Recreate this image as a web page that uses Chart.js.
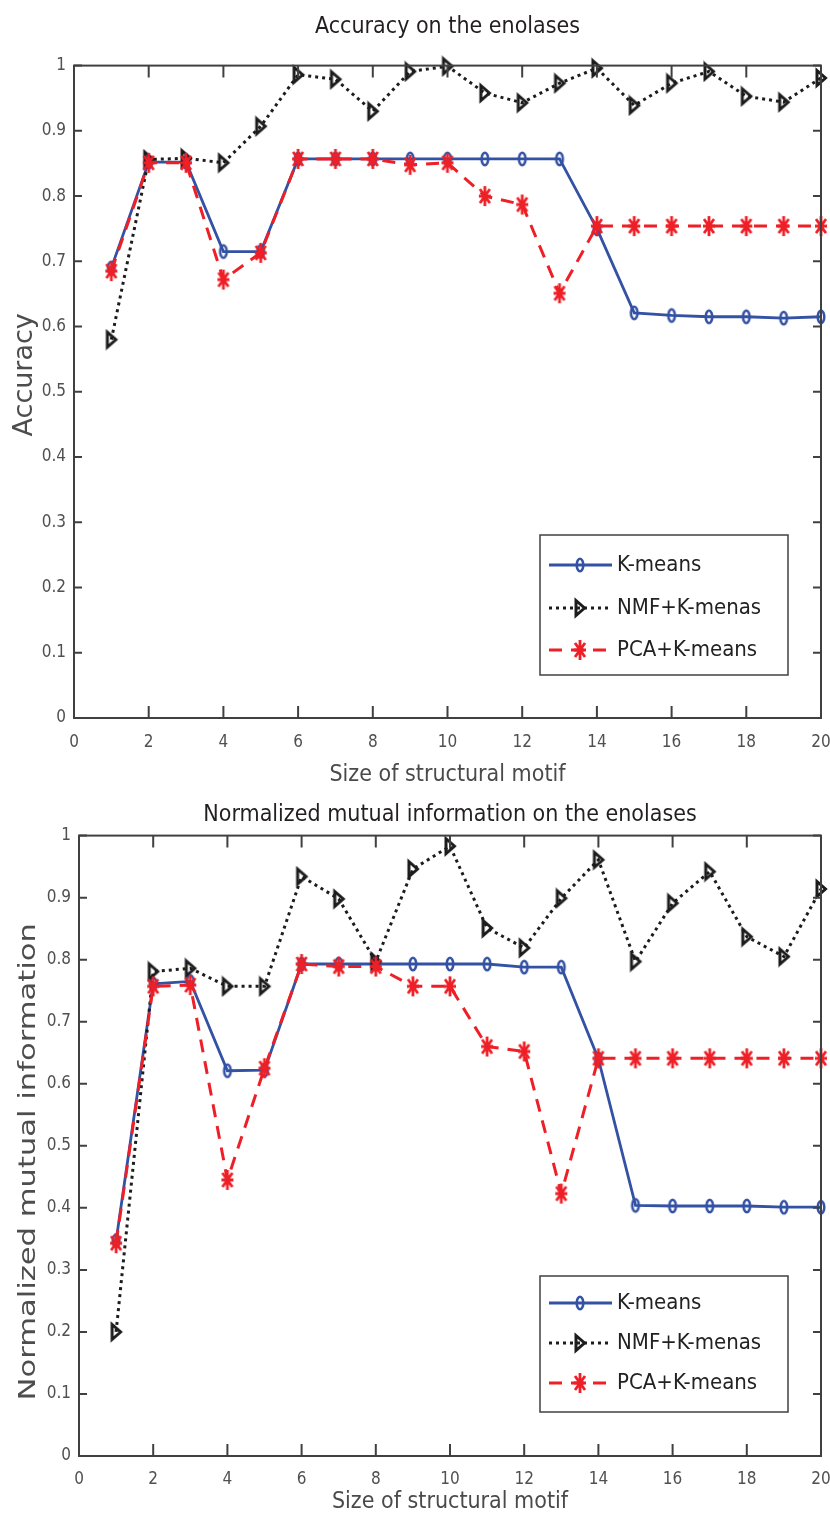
<!DOCTYPE html>
<html lang="en">
<head>
<meta charset="UTF-8">
<title>Clustering on the enolases</title>
<script src="https://cdn.jsdelivr.net/npm/chart.js"></script>
<style>
    html, body { margin: 0; padding: 0; background: #fff; }
    .wrap { position: relative; width: 830px; }
    #accWrap { height: 795px; }
    #nmiWrap { height: 723px; }
</style>
</head>
<body>
<div class="wrap" id="accWrap"><canvas id="accChart"></canvas></div>
<div class="wrap" id="nmiWrap"><canvas id="nmiChart"></canvas></div>

<script>
// Data
const motifSizes = [1, 2, 3, 4, 5, 6, 7, 8, 9, 10, 11, 12, 13, 14, 15, 16, 17, 18, 19, 20];
const xTicks = [0, 2, 4, 6, 8, 10, 12, 14, 16, 18, 20];
const yTicks = [0, 0.1, 0.2, 0.3, 0.4, 0.5, 0.6, 0.7, 0.8, 0.9, 1];
const seriesNames = ['K-means', 'NMF+K-menas', 'PCA+K-means'];

const accKmeans = [0.69, 0.852, 0.852, 0.715, 0.715, 0.857, 0.857, 0.857, 0.857, 0.857,
                   0.857, 0.857, 0.857, 0.750, 0.621, 0.617, 0.615, 0.615, 0.613, 0.615];
const accNmf    = [0.58, 0.856, 0.858, 0.851, 0.907, 0.986, 0.979, 0.930, 0.991, 0.999,
                   0.958, 0.943, 0.973, 0.996, 0.939, 0.973, 0.991, 0.953, 0.944, 0.981];
const accPca    = [0.685, 0.851, 0.851, 0.672, 0.713, 0.857, 0.857, 0.857, 0.848, 0.851,
                   0.800, 0.787, 0.651, 0.754, 0.754, 0.754, 0.754, 0.754, 0.754, 0.754];

const nmiKmeans = [0.347, 0.761, 0.765, 0.621, 0.622, 0.793, 0.793, 0.793, 0.793, 0.793,
                   0.793, 0.788, 0.788, 0.640, 0.404, 0.403, 0.403, 0.403, 0.401, 0.401];
const nmiNmf    = [0.200, 0.781, 0.786, 0.757, 0.757, 0.934, 0.898, 0.797, 0.946, 0.983,
                   0.851, 0.819, 0.899, 0.961, 0.797, 0.891, 0.942, 0.837, 0.805, 0.914];
const nmiPca    = [0.343, 0.757, 0.759, 0.445, 0.625, 0.793, 0.789, 0.789, 0.757, 0.757,
                   0.660, 0.652, 0.423, 0.641, 0.641, 0.641, 0.641, 0.641, 0.641, 0.641];

const NARROW = "'Liberation Sans Narrow', 'DejaVu Sans Condensed', sans-serif";
const BLUE = '#3452a4', BLACK = '#1c1c1c', RED = '#ee1f26';

// MATLAB style markers, a bit taller than wide like in the picture
function makeMarker(kind, color) {
    const c = document.createElement('canvas');
    const g = c.getContext('2d');
    if (kind === 'ellipse') {
        c.width = 14; c.height = 20;
        g.strokeStyle = color; g.lineWidth = 2.5;
        g.beginPath(); g.ellipse(7, 10, 3.3, 6.3, 0, 0, Math.PI * 2); g.stroke();
    } else if (kind === 'triangle') {
        c.width = 16; c.height = 22;
        g.strokeStyle = color; g.lineWidth = 3; g.lineJoin = 'miter';
        g.beginPath(); g.moveTo(4, 3.5); g.lineTo(12.5, 11); g.lineTo(4, 18.5); g.closePath(); g.stroke();
    } else {
        c.width = 16; c.height = 24;
        g.strokeStyle = color; g.lineWidth = 2.8;
        g.beginPath();
        g.moveTo(8, 2); g.lineTo(8, 22);
        g.moveTo(2, 12); g.lineTo(14, 12);
        g.moveTo(3, 5); g.lineTo(13, 19);
        g.moveTo(13, 5); g.lineTo(3, 19);
        g.stroke();
    }
    return c;
}
const markers = [makeMarker('ellipse', BLUE), makeMarker('triangle', BLACK), makeMarker('star', RED)];
const lineStyles = [
    { color: BLUE, width: 2.8, dash: [] },
    { color: BLACK, width: 3, dash: [3, 4] },
    { color: RED, width: 3, dash: [13, 9] }
];

// box around the plot with inward ticks on all four sides
const boxTicks = {
    id: 'boxTicks',
    afterDatasetsDraw(chart) {
        const { ctx, chartArea: a } = chart;
        const xs = chart.scales.x, ys = chart.scales.y;
        ctx.save();
        ctx.strokeStyle = '#404040';
        ctx.lineWidth = 2;
        ctx.strokeRect(a.left, a.top, a.right - a.left, a.bottom - a.top);
        ctx.beginPath();
        xTicks.forEach(v => {
            const p = xs.getPixelForValue(v);
            ctx.moveTo(p, a.bottom); ctx.lineTo(p, a.bottom - 12);
            ctx.moveTo(p, a.top); ctx.lineTo(p, a.top + 12);
        });
        yTicks.forEach(v => {
            const p = ys.getPixelForValue(v);
            ctx.moveTo(a.left, p); ctx.lineTo(a.left + 8, p);
            ctx.moveTo(a.right, p); ctx.lineTo(a.right - 8, p);
        });
        ctx.stroke();
        ctx.restore();
    }
};

// rotated y title, stretched along its length like the picture
const yTitle = {
    id: 'yTitle',
    afterDraw(chart, args, opts) {
        const { ctx, chartArea: a } = chart;
        ctx.save();
        ctx.translate(opts.x, (a.top + a.bottom) / 2 + opts.shift);
        ctx.rotate(-Math.PI / 2);
        ctx.scale(opts.stretch, 1);
        ctx.font = opts.size + "px 'DejaVu Sans', sans-serif";
        ctx.fillStyle = '#4d4d4d';
        ctx.textAlign = 'center';
        ctx.textBaseline = 'middle';
        ctx.fillText(opts.text, 0, 0);
        ctx.restore();
    }
};

// legend box inside the plot
const boxLegend = {
    id: 'boxLegend',
    afterDraw(chart, args, o) {
        const ctx = chart.ctx;
        ctx.save();
        ctx.fillStyle = '#fff';
        ctx.fillRect(o.left, o.top, o.width, o.height);
        ctx.strokeStyle = '#404040';
        ctx.lineWidth = 1.5;
        ctx.strokeRect(o.left, o.top, o.width, o.height);
        seriesNames.forEach((name, i) => {
            const y = o.rows[i];
            const st = lineStyles[i];
            ctx.strokeStyle = st.color;
            ctx.lineWidth = st.width;
            ctx.setLineDash(st.dash);
            ctx.beginPath();
            ctx.moveTo(o.left + 9, y); ctx.lineTo(o.left + 72, y);
            ctx.stroke();
            ctx.setLineDash([]);
            const m = markers[i];
            ctx.drawImage(m, o.left + 40 - m.width / 2, y - m.height / 2);
            ctx.fillStyle = '#222';
            ctx.font = '22px ' + NARROW;
            ctx.textAlign = 'left';
            ctx.textBaseline = 'middle';
            ctx.fillText(name, o.left + 77, y);
        });
        ctx.restore();
    }
};

function makeDatasets(series) {
    return series.map((vals, i) => ({
        label: seriesNames[i],
        data: motifSizes.map((x, k) => ({ x: x, y: vals[k] })),
        borderColor: lineStyles[i].color,
        borderWidth: lineStyles[i].width,
        borderDash: lineStyles[i].dash,
        pointStyle: markers[i],
        pointRadius: 6,
        tension: 0,
        fill: false,
        clip: false,
        order: [2, 1, 0][i]
    }));
}

function buildChart(id, cfg) {
    const tickFont = { family: NARROW, size: 17 };
    return new Chart(document.getElementById(id), {
        type: 'line',
        data: { datasets: makeDatasets(cfg.series) },
        options: {
            responsive: true,
            maintainAspectRatio: false,
            animation: false,
            events: [],
            layout: { padding: { left: 0, right: cfg.padRight, top: 0, bottom: 0 } },
            plugins: {
                legend: { display: false },
                tooltip: { enabled: false },
                title: {
                    display: true,
                    fullSize: false,
                    text: cfg.title,
                    color: '#231f20',
                    font: { family: NARROW, size: 23, weight: 'normal' },
                    padding: cfg.titlePad
                },
                yTitle: cfg.yTitle,
                boxLegend: cfg.legend
            },
            scales: {
                x: {
                    type: 'linear',
                    min: 0, max: 20,
                    afterBuildTicks: s => { s.ticks = xTicks.map(v => ({ value: v })); },
                    afterFit: s => { s.height = cfg.xHeight; s.paddingLeft = 0; s.paddingRight = 0; },
                    grid: { display: false, drawTicks: false },
                    border: { display: false },
                    ticks: { font: tickFont, color: '#505050', padding: cfg.xTickPad, maxRotation: 0, autoSkip: false },
                    title: {
                        display: true,
                        text: 'Size of structural motif',
                        color: '#4a4a4a',
                        font: { family: NARROW, size: 23 },
                        padding: { top: 0, bottom: cfg.xTitlePad }
                    }
                },
                y: {
                    min: 0, max: 1,
                    afterBuildTicks: s => { s.ticks = yTicks.map(v => ({ value: v })); },
                    afterFit: s => { s.width = cfg.yWidth; },
                    grid: { display: false, drawTicks: false },
                    border: { display: false },
                    ticks: {
                        font: tickFont, color: '#505050', padding: 8,
                        callback: v => (v === 0 || v === 1) ? String(v) : v.toFixed(1)
                    }
                }
            }
        },
        plugins: [boxTicks, yTitle, boxLegend]
    });
}

buildChart('accChart', {
    series: [accKmeans, accNmf, accPca],
    title: 'Accuracy on the enolases',
    titlePad: { top: 13, bottom: 25 },
    padRight: 7,
    yWidth: 74,
    xHeight: 77,
    xTickPad: 14,
    xTitlePad: 6,
    yTitle: { text: 'Accuracy', x: 25, shift: -17, size: 27, stretch: 1 },
    legend: { left: 540, top: 535, width: 248, height: 140, rows: [565, 608, 650] }
});

buildChart('nmiChart', {
    series: [nmiKmeans, nmiNmf, nmiPca],
    title: 'Normalized mutual information on the enolases',
    titlePad: { top: 6, bottom: 7 },
    padRight: 9,
    yWidth: 79,
    xHeight: 62,
    xTickPad: 13,
    xTitlePad: 2,
    yTitle: { text: 'Normalized mutual information', x: 29, shift: 16, size: 23, stretch: 1.33 },
    legend: { left: 540, top: 481, width: 248, height: 136, rows: [508, 548, 588] }
});
</script>
</body>
</html>
